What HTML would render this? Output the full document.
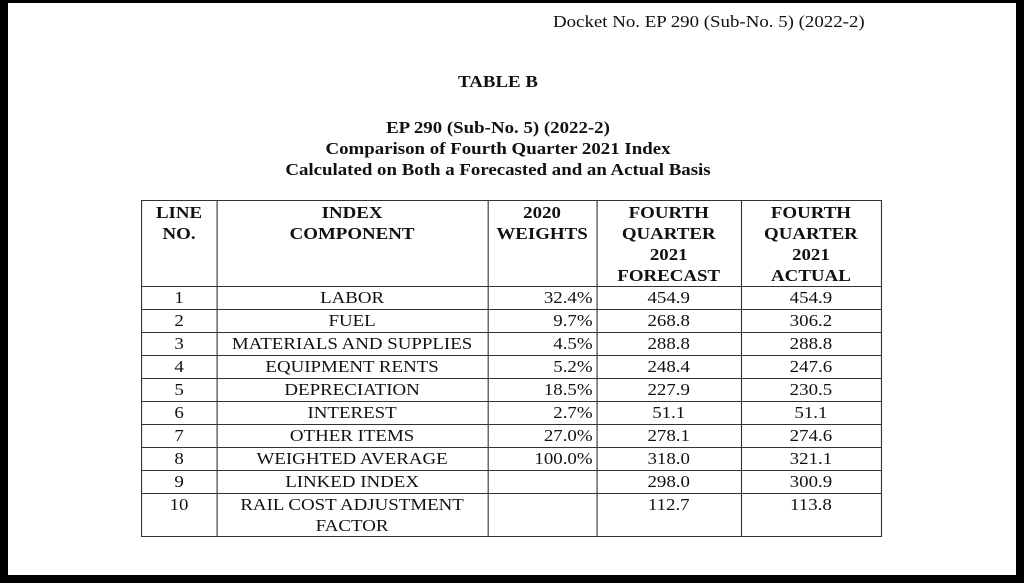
<!DOCTYPE html>
<html><head><style>
body{margin:0;width:1024px;height:583px;background:#000;position:relative;overflow:hidden;font-family:"Liberation Serif",serif;color:#111}
#pg{position:absolute;left:8px;top:3px;width:1008px;height:572px;background:#fff}
.t{position:absolute;white-space:nowrap;font-size:17px;transform:scaleX(1.11);transform-origin:center top}
.b{font-weight:bold}
.c{text-align:center}
table{position:absolute;left:141px;top:200px;border-collapse:collapse;font-size:17px;table-layout:fixed;transform:scaleX(1.111);transform-origin:left top;width:665.7px}
td{border:1.5px solid #333;padding:0;line-height:22px;height:22px;overflow:visible;white-space:nowrap}
th{border:1.5px solid #333;font-weight:bold;vertical-align:top;line-height:21px;padding:1px 0 0 0;height:84px;box-sizing:border-box}
</style></head><body><div id="pg"></div>
<div class="t" style="left:553px;width:280px;top:12px;transform-origin:left top">Docket No. EP 290 (Sub-No. 5) (2022-2)</div>
<div class="t b c" style="left:398px;width:200px;top:72px">TABLE B</div>
<div class="t b c" style="left:178px;width:640px;top:117px;line-height:21px">EP 290 (Sub-No. 5) (2022-2)<br>Comparison of Fourth Quarter 2021 Index<br>Calculated on Both a Forecasted and an Actual Basis</div>
<table>
<colgroup><col style="width:67.5px"><col style="width:244px"><col style="width:98px"><col style="width:130px"><col style="width:126px"></colgroup>
<tr><th>LINE<br>NO.</th><th>INDEX<br>COMPONENT</th><th>2020<br>WEIGHTS</th><th>FOURTH<br>QUARTER<br>2021<br>FORECAST</th><th>FOURTH<br>QUARTER<br>2021<br>ACTUAL</th></tr>
<tr><td class="c">1</td><td class="c">LABOR</td><td style="text-align:right;padding-right:3px">32.4%</td><td class="c">454.9</td><td class="c">454.9</td></tr>
<tr><td class="c">2</td><td class="c">FUEL</td><td style="text-align:right;padding-right:3px">9.7%</td><td class="c">268.8</td><td class="c">306.2</td></tr>
<tr><td class="c">3</td><td class="c">MATERIALS AND SUPPLIES</td><td style="text-align:right;padding-right:3px">4.5%</td><td class="c">288.8</td><td class="c">288.8</td></tr>
<tr><td class="c">4</td><td class="c">EQUIPMENT RENTS</td><td style="text-align:right;padding-right:3px">5.2%</td><td class="c">248.4</td><td class="c">247.6</td></tr>
<tr><td class="c">5</td><td class="c">DEPRECIATION</td><td style="text-align:right;padding-right:3px">18.5%</td><td class="c">227.9</td><td class="c">230.5</td></tr>
<tr><td class="c">6</td><td class="c">INTEREST</td><td style="text-align:right;padding-right:3px">2.7%</td><td class="c">51.1</td><td class="c">51.1</td></tr>
<tr><td class="c">7</td><td class="c">OTHER ITEMS</td><td style="text-align:right;padding-right:3px">27.0%</td><td class="c">278.1</td><td class="c">274.6</td></tr>
<tr><td class="c">8</td><td class="c">WEIGHTED AVERAGE</td><td style="text-align:right;padding-right:3px">100.0%</td><td class="c">318.0</td><td class="c">321.1</td></tr>
<tr><td class="c">9</td><td class="c">LINKED INDEX</td><td></td><td class="c">298.0</td><td class="c">300.9</td></tr>
<tr><td class="c" style="vertical-align:top;height:39px">10</td><td class="c" style="line-height:21px;vertical-align:top">RAIL COST ADJUSTMENT<br>FACTOR</td><td></td><td class="c" style="vertical-align:top">112.7</td><td class="c" style="vertical-align:top">113.8</td></tr>
</table>
</body></html>
